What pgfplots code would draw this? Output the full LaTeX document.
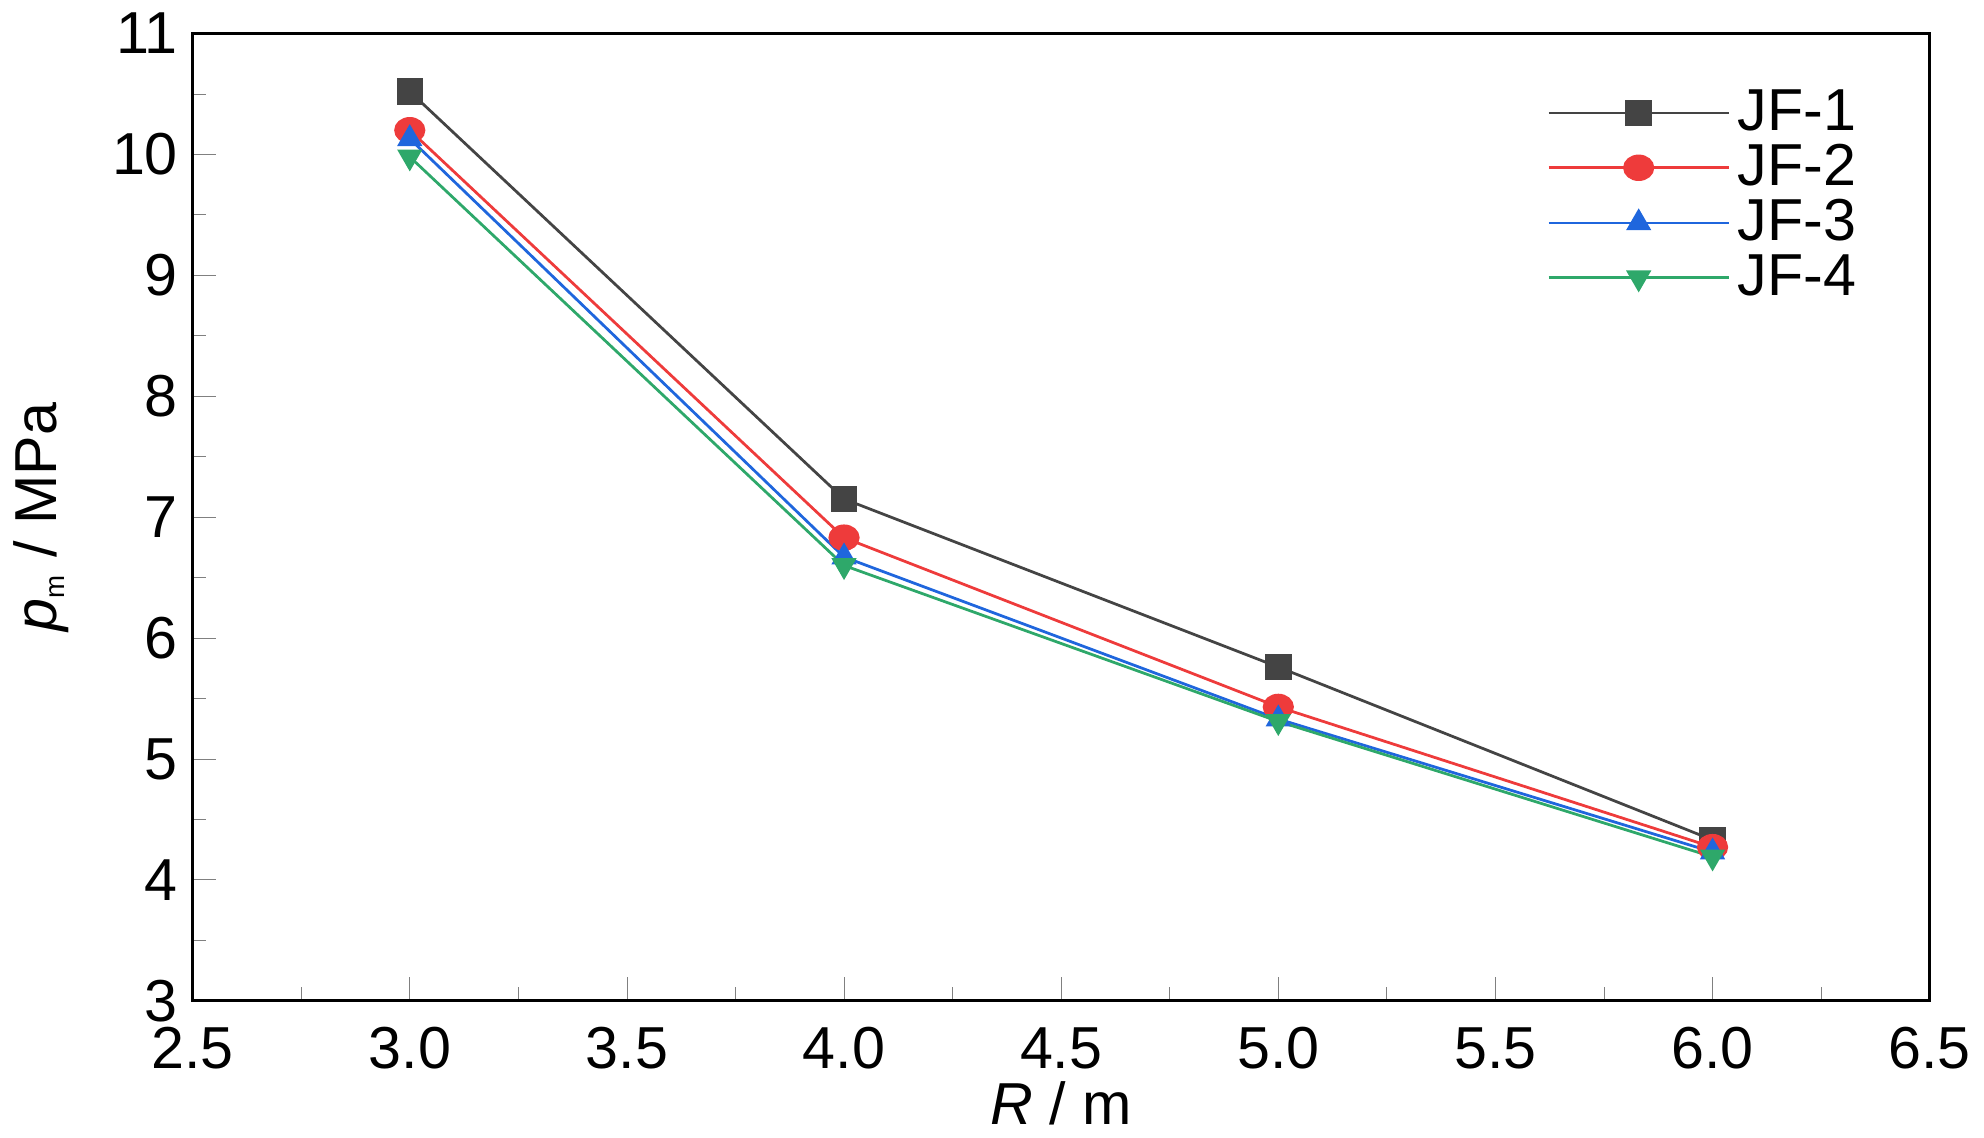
\documentclass[border=0pt]{standalone}
\usepackage{pgfplots}
\pgfplotsset{compat=1.18}
\usepackage{fontspec}
\setmainfont{Liberation Sans}
\definecolor{c1}{HTML}{444444}
\definecolor{c2}{HTML}{EE3B3B}
\definecolor{c3}{HTML}{1F66DD}
\definecolor{c4}{HTML}{2EA86A}
\begin{document}
\begin{tikzpicture}
\begin{axis}[
  scale only axis, width=440pt, height=245pt,
  xmin=2.5, xmax=6.5, ymin=3, ymax=11,
  xtick={2.5,3,...,6.5}, ytick={3,4,...,11},
  xticklabels={2.5,3.0,3.5,4.0,4.5,5.0,5.5,6.0,6.5},
  minor x tick num=1, minor y tick num=1,
  xtick pos=bottom, ytick pos=left,
  tick align=inside, major tick length=6pt, minor tick length=3.5pt,
  line width=0.8pt,
  tick label style={font=\fontsize{15}{15}\selectfont},
  xticklabel style={yshift=-3pt},
  /pgf/number format/assume math mode=true,
  xlabel={\textit{R} / m}, ylabel={\textit{p}\textsubscript{\fontsize{7}{7}\selectfont m} / MPa},
  label style={font=\fontsize{15}{15}\selectfont},
  xlabel style={yshift=4pt}, ylabel style={yshift=4pt},
  legend style={draw=none, fill=none, at={(0.97,0.96)}, anchor=north east, font=\fontsize{15}{15}\selectfont, row sep=-2pt},
  legend cell align=left,
  legend image code/.code={\draw[#1] (0cm,0cm) -- (1.6cm,0cm); \draw[#1, mark repeat=2, mark phase=2] plot coordinates {(0cm,0cm)(0.8cm,0cm)(1.6cm,0cm)};},
  every axis plot/.append style={line width=0.7pt, mark size=3pt},
]
\addplot[c1, mark=square*, mark options={fill=c1}] coordinates {(3,10.52)(4,7.15)(5,5.76)(6,4.33)};
\addplot[c2, mark=*, mark options={fill=c2, xscale=1.2}] coordinates {(3,10.2)(4,6.83)(5,5.43)(6,4.27)};
\addplot[c3, mark=triangle*, mark options={fill=c3}] coordinates {(3,10.13)(4,6.67)(5,5.33)(6,4.23)};
\addplot[c4, mark=triangle*, mark options={fill=c4, rotate=180}] coordinates {(3,9.98)(4,6.6)(5,5.31)(6,4.19)};
\legend{JF-1,JF-2,JF-3,JF-4}
\end{axis}
\end{tikzpicture}
\end{document}
